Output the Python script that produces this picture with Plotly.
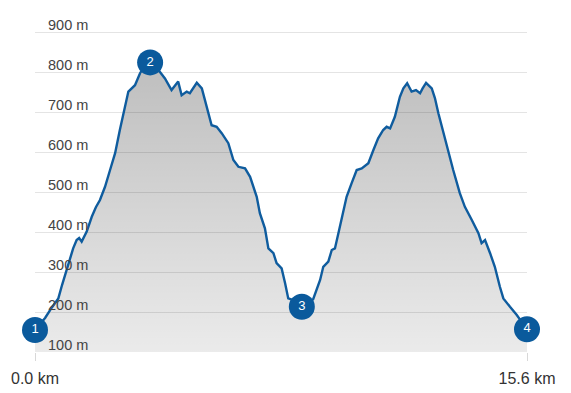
import plotly.graph_objects as go

# Elevation profile (distance in km, elevation in m)
dist_km = [0.00, 0.32, 0.54, 0.74, 0.86, 1.01, 1.11, 1.21, 1.32, 1.40, 1.48, 1.64, 1.80, 1.93,
           2.06, 2.22, 2.38, 2.54, 2.69, 2.85, 2.96, 3.17, 3.33, 3.43, 3.65, 3.80, 3.96, 4.12,
           4.33, 4.54, 4.65, 4.81, 4.91, 5.13, 5.29, 5.44, 5.60, 5.76, 5.92, 6.13, 6.29, 6.45,
           6.66, 6.82, 7.03, 7.13, 7.29, 7.40, 7.56, 7.66, 7.82, 7.93, 8.03, 8.19, 8.46, 8.82,
           8.94, 9.04, 9.14, 9.30, 9.41, 9.51, 9.62, 9.72, 9.88, 10.04, 10.20, 10.36, 10.57,
           10.73, 10.88, 11.04, 11.15, 11.26, 11.41, 11.57, 11.68, 11.80, 11.94, 12.08, 12.21,
           12.29, 12.40, 12.58, 12.68, 12.79, 12.95, 13.10, 13.26, 13.47, 13.63, 13.85, 14.06,
           14.16, 14.27, 14.43, 14.58, 14.74, 14.85, 15.06, 15.27, 15.60]
elev_m = [155, 185, 212, 234, 268, 305, 335, 359, 380, 385, 376, 401, 438, 462,
          480, 513, 555, 597, 655, 709, 751, 767, 797, 809, 820, 817, 801, 784,
          755, 776, 742, 751, 747, 773, 759, 713, 667, 663, 647, 622, 580, 563,
          559, 538, 488, 447, 409, 359, 347, 322, 309, 272, 234, 230, 213, 232,
          260, 280, 313, 326, 355, 359, 397, 430, 488, 522, 555, 559, 572,
          605, 634, 655, 663, 659, 688, 738, 759, 772, 751, 755, 747,
          759, 773, 759, 735, 697, 647, 601, 555, 497, 463, 430, 397,
          372, 380, 347, 313, 263, 234, 213, 193, 157]

# Waypoints
wp_km = [0.0, 3.65, 8.46, 15.6]
wp_m = [155, 824, 213, 157]
wp_labels = ["1", "2", "3", "4"]

# Axis ticks
y_ticks = [100, 200, 300, 400, 500, 600, 700, 800, 900]
y_ticktext = [f"{v} m" for v in y_ticks]
x_ticks = [0.0, 15.6]
x_ticktext = ["0.0 km", "15.6 km"]

LINE = "#0f5c9e"
MARK = "#0a5a9c"

fig = go.Figure()
fig.add_trace(go.Scatter(
    x=dist_km, y=elev_m, mode="lines",
    line=dict(color=LINE, width=2.4),
    fill="tozeroy",
    fillgradient=dict(type="vertical",
                      colorscale=[[0, "rgba(0,0,0,0.08)"], [1, "rgba(0,0,0,0.25)"]],
                      start=100, stop=800),
    hoverinfo="skip", showlegend=False,
))
fig.add_trace(go.Scatter(
    x=wp_km, y=wp_m, mode="markers+text",
    marker=dict(size=26, color=MARK, line=dict(width=0)),
    text=wp_labels, textposition="middle center",
    textfont=dict(color="white", size=13, family="Liberation Sans"),
    cliponaxis=False, showlegend=False, hoverinfo="skip",
))

# Y-axis labels drawn above their gridlines, inside the plot
for v, t in zip(y_ticks, y_ticktext):
    fig.add_annotation(x=0, xref="paper", y=v, yref="y", text=t,
                       xanchor="left", yanchor="bottom", xshift=11, yshift=-3,
                       showarrow=False,
                       font=dict(family="Liberation Sans", size=14.5, color="#444"))

fig.update_layout(
    width=571, height=393,
    margin=dict(l=35, r=44, t=30, b=41, autoexpand=False),
    paper_bgcolor="white", plot_bgcolor="white",
    font=dict(family="Liberation Sans", color="#444"),
    xaxis=dict(range=[0, 15.6], tickvals=x_ticks, ticktext=x_ticktext,
               showgrid=False, zeroline=False, showline=False, automargin=False,
               ticks="outside", ticklen=8, tickcolor="#d8d8d8",
               ticklabelstandoff=4,
               tickfont=dict(size=16, color="#333")),
    yaxis=dict(range=[100, 905], tickvals=y_ticks, showticklabels=False,
               showgrid=True, gridcolor="#e4e4e4", gridwidth=1,
               zeroline=False, showline=False, automargin=False),
)

fig.write_html("out.html")
